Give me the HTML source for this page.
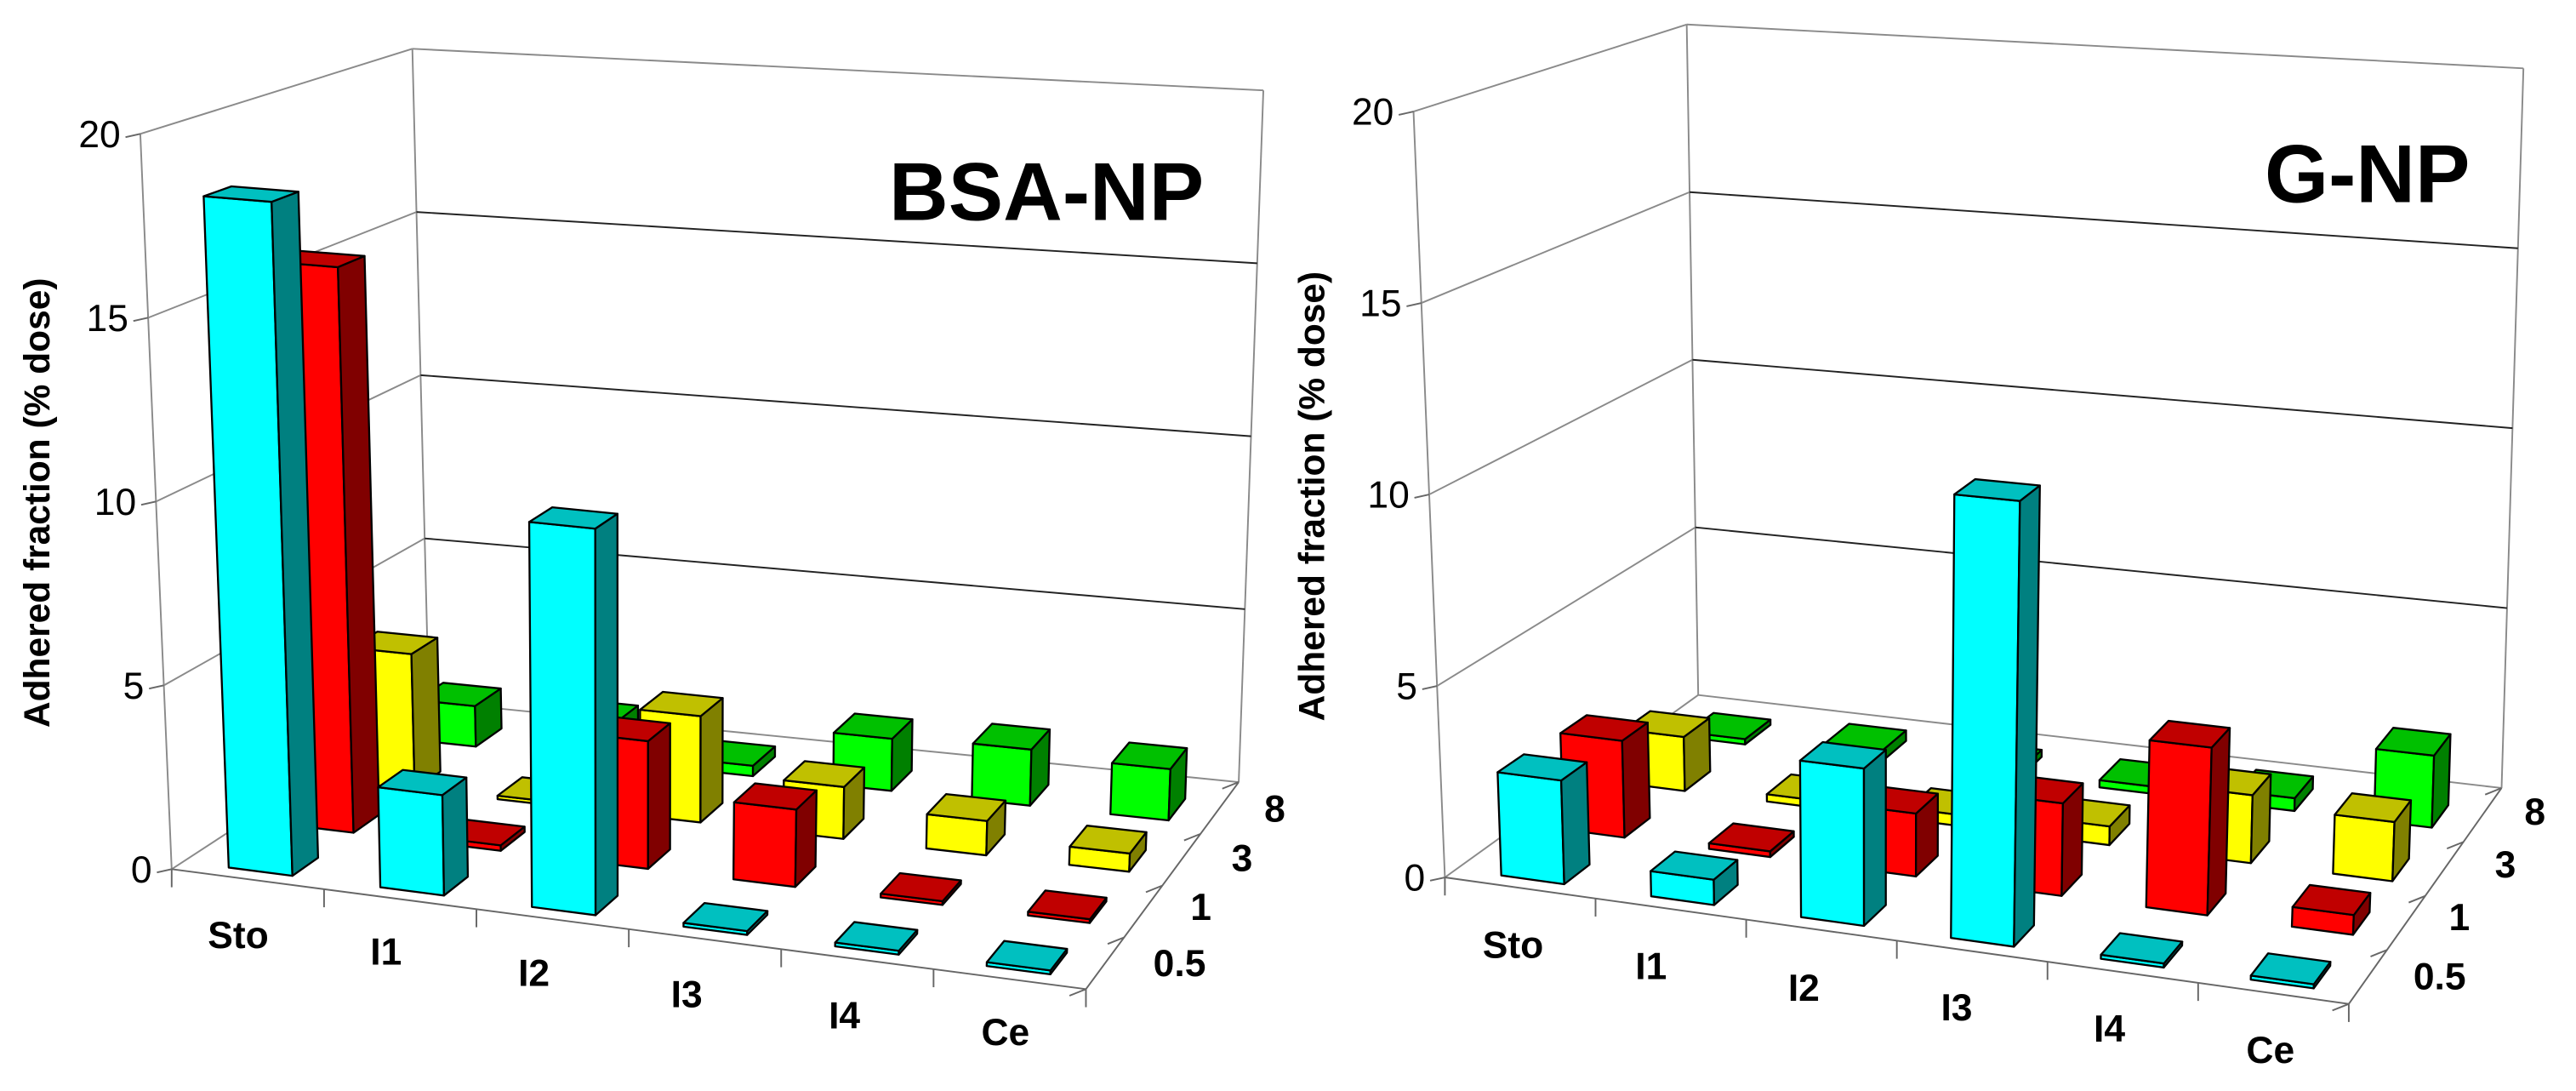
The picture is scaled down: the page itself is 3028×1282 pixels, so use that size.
<!DOCTYPE html>
<html><head><meta charset="utf-8"><style>
html,body{margin:0;padding:0;background:#fff}
svg{display:block}
text{font-family:"Liberation Sans",Arial,sans-serif}
</style></head><body>
<svg id="chart" xmlns="http://www.w3.org/2000/svg" width="3028" height="1282" viewBox="0 0 1568 664" preserveAspectRatio="none">
<g id="left"></g>
<g id="right"></g>
</svg>
<script>
const categories=['Sto','I1','I2','I3','I4','Ce'];
const depths=['0.5','1','3','8'];
const yTicks=[0,5,10,15,20];
// BSA-NP values (% dose)
const bsa05=[18.3,2.7,10.3,0.1,0.1,0.1];
const bsa1=[15.8,0.15,3.5,2.1,0.1,0.1];
const bsa3=[3.9,0.1,3.0,1.45,0.95,0.5];
const bsa8=[1.2,1.1,0.3,1.5,1.6,1.45];
// G-NP values (% dose)
const gnp05=[2.7,0.65,4.0,11.2,0.1,0.1];
const gnp1=[2.6,0.15,1.65,2.4,4.3,0.5];
const gnp3=[1.5,0.2,0.3,0.5,1.8,1.55];
const gnp8=[0.15,0.3,0.2,0.2,0.35,1.95];

const NS='http://www.w3.org/2000/svg';
const cols=[['#00ffff','#00c0c0','#008080'],['#ff0000','#c00000','#800000'],['#ffff00','#c0c000','#808000'],['#00ff00','#00c000','#008000']];
const rowNames=['row-0-5','row-1','row-3','row-8'];

function mk(parent,tag,attrs){const e=document.createElementNS(NS,tag);for(const k in attrs)e.setAttribute(k,attrs[k]);parent.appendChild(e);return e;}
function bil(a,b,c,d,u,v){return [(1-u)*(1-v)*a[0]+u*(1-v)*b[0]+u*v*c[0]+(1-u)*v*d[0],(1-u)*(1-v)*a[1]+u*(1-v)*b[1]+u*v*c[1]+(1-u)*v*d[1]];}
function proj(g,u,v,w){const f=bil(g.FL,g.FR,g.BR,g.BL,u,v);const t=bil(g.FLt,g.FRt,g.BRt,g.BLt,u,v);const k=w/20;return [f[0]+k*(t[0]-f[0]),f[1]+k*(t[1]-f[1])];}
function pts(a){return a.map(p=>p[0].toFixed(2)+','+p[1].toFixed(2)).join(' ');}

function draw(root,g,rows,title,L){
  const grid='#8a8a8a';
  const line=(p,q,name,col,sw)=>{const e=mk(root,'line',{x1:p[0],y1:p[1],x2:q[0],y2:q[1],stroke:col||grid,'stroke-width':sw||1});
    
    return e;};
  line(proj(g,0,0,0),proj(g,0,0,20),'y-axis-line');
  line(proj(g,0,1,0),proj(g,0,1,20),'left-wall-back-edge');
  line(proj(g,1,1,0),proj(g,1,1,20),'back-wall-right-edge');
  line(proj(g,0,0,20),proj(g,0,1,20),'left-wall-top-edge');
  line(proj(g,0,1,20),proj(g,1,1,20),'back-wall-top-edge');
  line(proj(g,0,0,0),proj(g,0,1,0),'floor-left-edge');
  line(proj(g,0,1,0),proj(g,1,1,0),'floor-back-edge');
  line(proj(g,0,0,0),proj(g,1,0,0),'x-axis-line','#666');
  line(proj(g,1,0,0),proj(g,1,1,0),'depth-axis-line','#666');
  yTicks.forEach(t=>{
    if(t>0&&t<20){line(proj(g,0,0,t),proj(g,0,1,t),'left-wall-gridline');line(proj(g,0,1,t),proj(g,1,1,t),'back-wall-gridline','#222');}
    const p=proj(g,0,0,t);
    line(p,[p[0]-9,p[1]+2],'y-tick','#666');
    const tx=mk(root,'text',{x:p[0]-12,y:p[1]+8,'text-anchor':'end','font-size':23,fill:'#000'});
    tx.textContent=t;
    
    
  });
  for(let k=0;k<=6;k++){const p=proj(g,k/6,0,0);line(p,[p[0],p[1]+11],'x-tick','#666');}
  for(let k=0;k<=4;k++){const p=proj(g,1,k/4,0);line(p,[p[0]-10,p[1]+4],'depth-tick','#666');}
  for(let j=3;j>=0;j--){
    const vals=rows[j];
    const grp=mk(root,'g',{});
    
    
    vals.forEach((val,i)=>{
      const u0=(i+0.3)/6,u1=(i+0.72)/6,v0=(j+0.18)/4,v1=(j+0.6)/4;
      const b=mk(grp,'g',{stroke:'#000','stroke-width':1.2,'stroke-linejoin':'round'});
      
      
      mk(b,'polygon',{points:pts([proj(g,u0,v0,0),proj(g,u1,v0,0),proj(g,u1,v0,val),proj(g,u0,v0,val)]),fill:cols[j][0]});
      mk(b,'polygon',{points:pts([proj(g,u1,v0,0),proj(g,u1,v1,0),proj(g,u1,v1,val),proj(g,u1,v0,val)]),fill:cols[j][2]});
      mk(b,'polygon',{points:pts([proj(g,u0,v0,val),proj(g,u1,v0,val),proj(g,u1,v1,val),proj(g,u0,v1,val)]),fill:cols[j][1]});
    });
  }
  categories.forEach((c,i)=>{
    const t=mk(root,'text',{x:L.cat[i][0],y:L.cat[i][1]+8,'text-anchor':'middle','font-size':23,'font-weight':'bold'});
    t.textContent=c;
    
    
  });
  depths.forEach((d,i)=>{
    const t=mk(root,'text',{x:L.dep[i][0],y:L.dep[i][1]+8,'text-anchor':'middle','font-size':23,'font-weight':'bold'});
    t.textContent=d;
    
    
  });
  const yt=mk(root,'text',{x:L.ytitle[0],y:L.ytitle[1],'text-anchor':'middle','font-size':22,'font-weight':'bold',transform:'rotate(-90 '+L.ytitle[0]+' '+L.ytitle[1]+')'});
  yt.textContent='Adhered fraction (% dose)';
  
  
  const tt=mk(root,'text',{x:L.title[0],y:L.title[1],'text-anchor':'middle','font-size':50,'font-weight':'bold'});
  tt.textContent=title;
  
  
}

const gL={FL:[104.5,529],FR:[661,602],BR:[754,476],BL:[261,427],
  FLt:[85.4,81.5],FRt:[683,129],BRt:[769,55],BLt:[251,29.7]};
const gR={FL:[879.5,534],FR:[1429.7,611],BR:[1522.7,479.6],BL:[1033.7,423],
  FLt:[860.4,67.9],FRt:[1452,111],BRt:[1536,41.6],BLt:[1026.7,14.9]};
const layL={cat:[[145,569],[235,579],[325,592],[418,605],[514,618],[612,628]],
  dep:[[718,586],[731,552],[756,522],[776,492]],ytitle:[30,306],title:[637,134]};
const layR={cat:[[921,575],[1005,588],[1098,601],[1191,613],[1284,626],[1382,639]],
  dep:[[1485,594],[1497,558],[1525,526],[1543,494]],ytitle:[806,302],title:[1441,123]};

draw(document.getElementById('left'),gL,[bsa05,bsa1,bsa3,bsa8],'BSA-NP',layL);
draw(document.getElementById('right'),gR,[gnp05,gnp1,gnp3,gnp8],'G-NP',layR);
</script>
</body></html>
